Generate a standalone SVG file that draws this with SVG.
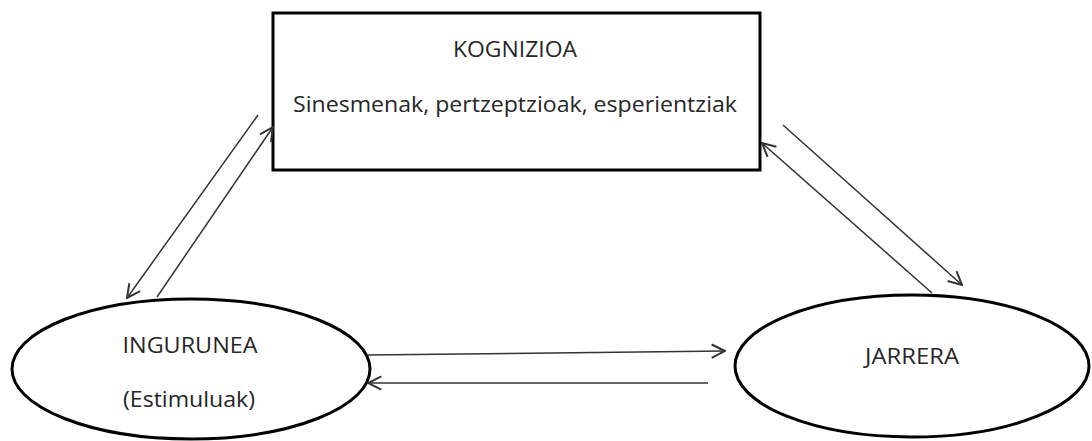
<svg xmlns="http://www.w3.org/2000/svg" width="1092" height="441" viewBox="0 0 1092 441">
<style>
.node{fill:#fff;stroke:#000;stroke-width:3}
.lbl{font-family:"Open Sans","Noto Sans",sans-serif;font-size:22px;fill:#262626;text-anchor:middle}
.con{stroke:#333;stroke-width:1.5;fill:none;marker-end:url(#arr)}
</style>
<defs>
<marker id="arr" markerUnits="userSpaceOnUse" markerWidth="16" markerHeight="16" refX="11" refY="6" orient="auto" viewBox="0 0 12 12">
<path d="M1,1 L11,6 L1,11" fill="none" stroke="#333" stroke-width="1.5"/>
</marker>
</defs>
<rect width="1092" height="441" fill="#fff"/>
<g id="kognizioa">
<rect class="node" x="273" y="13" width="487" height="157"/>
<text class="lbl" x="515" y="57" textLength="124" lengthAdjust="spacingAndGlyphs">KOGNIZIOA</text>
<text class="lbl" x="515" y="112" textLength="444" lengthAdjust="spacingAndGlyphs">Sinesmenak, pertzeptzioak, esperientziak</text>
</g>
<g id="ingurunea">
<ellipse class="node" cx="191" cy="369" rx="179" ry="70"/>
<text class="lbl" x="190" y="353" textLength="135" lengthAdjust="spacingAndGlyphs">INGURUNEA</text>
<text class="lbl" x="189" y="407" textLength="132" lengthAdjust="spacingAndGlyphs">(Estimuluak)</text>
</g>
<g id="jarrera">
<ellipse class="node" cx="912" cy="366" rx="177" ry="71"/>
<text class="lbl" x="912" y="364" textLength="94" lengthAdjust="spacingAndGlyphs">JARRERA</text>
</g>
<g id="connectors">
<line class="con" x1="258" y1="115" x2="127" y2="298"/>
<line class="con" x1="157" y1="297" x2="273" y2="127"/>
<line class="con" x1="783" y1="125" x2="962" y2="285"/>
<line class="con" x1="932" y1="293" x2="762" y2="143"/>
<line class="con" x1="367" y1="355" x2="725" y2="351"/>
<line class="con" x1="708" y1="383" x2="368" y2="383"/>
</g>
</svg>
